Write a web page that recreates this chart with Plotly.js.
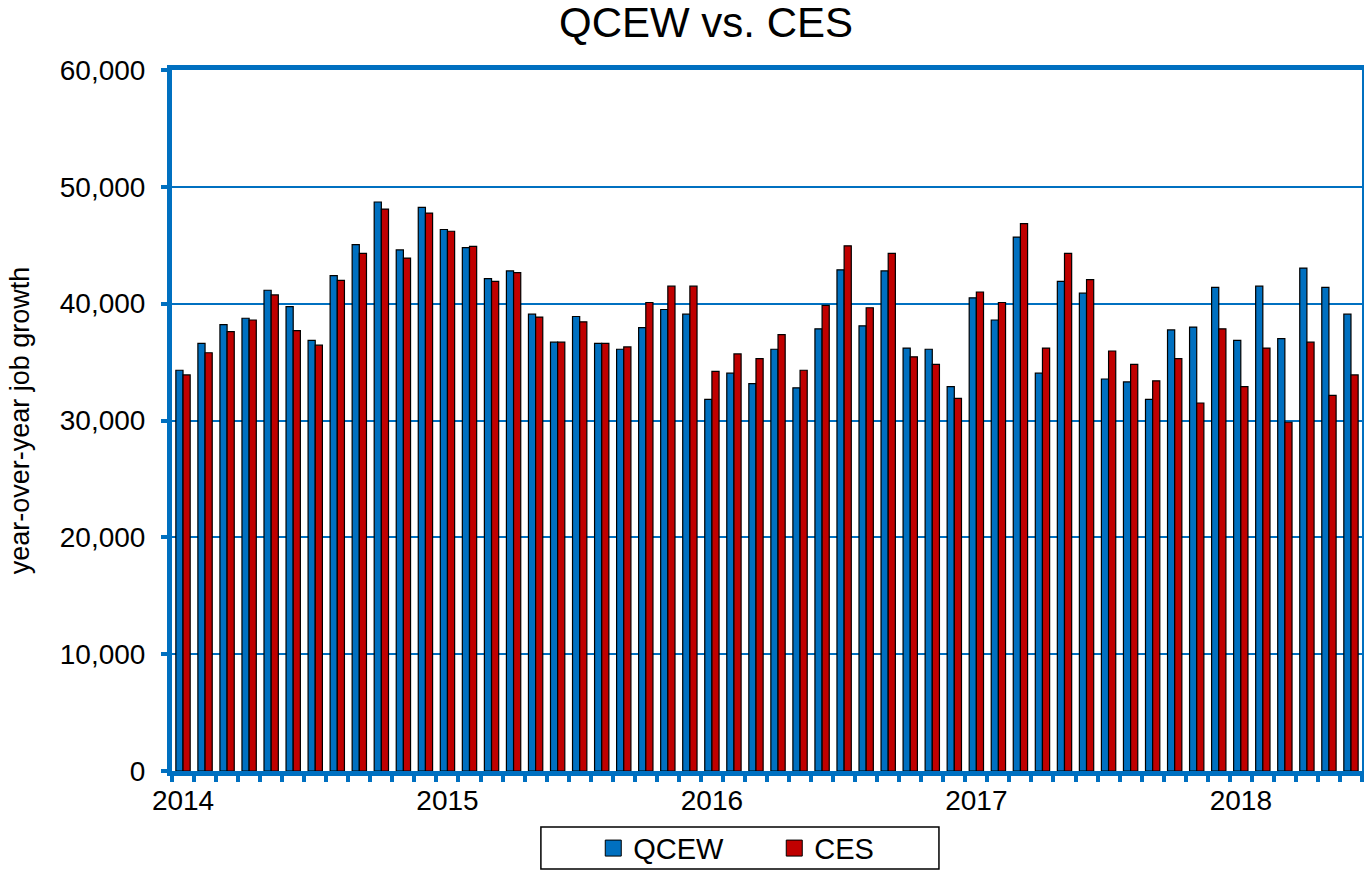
<!DOCTYPE html>
<html>
<head>
<meta charset="utf-8">
<script src="https://cdn.plot.ly/plotly-3.0.1.min.js"></script>
<style>html,body{margin:0;padding:0;background:#fff;}#chart{width:1364px;height:872px;}</style>
</head>
<body>
<div id="chart"></div>
<script>
// Categories: monthly, Jan 2014 – Jun 2018
const years = ['2014', '2015', '2016', '2017', '2018'];
const monthNames = ['Jan','Feb','Mar','Apr','May','Jun','Jul','Aug','Sep','Oct','Nov','Dec'];
const months = [];
const tickLabels = [];
years.forEach(function (yr) {
  monthNames.forEach(function (m, i) {
    if (yr === '2018' && i > 5) return;
    months.push(m + ' ' + yr);
    tickLabels.push(i === 0 ? yr : '');
  });
});

// year-over-year job growth
const qcew = [
  34300, 36600, 38200, 38750, 41150, 39750, 36850, 42400, 45050, 48700, 44600, 48250,
  46350, 44800, 42150, 42800, 39100, 36700, 38900, 36600, 36100, 37950, 39500, 39100,
  31800, 34050, 33150, 36100, 32800, 37850, 42900, 38100, 42800, 36200, 36100, 32900,
  40500, 38600, 45700, 34050, 41900, 40900, 33550, 33300, 31800, 37750, 38000, 41400,
  36850, 41500, 37000, 43050, 41400, 39100
];
const ces = [
  33900, 35800, 37600, 38600, 40750, 37700, 36450, 42000, 44300, 48100, 43900, 47750,
  46200, 44900, 41900, 42650, 38850, 36700, 38450, 36600, 36300, 40100, 41500, 41500,
  34200, 35700, 35300, 37350, 34300, 39850, 44950, 39650, 44300, 35450, 34800, 31900,
  41000, 40100, 46850, 36200, 44300, 42050, 35950, 34800, 33400, 35300, 31500, 37850,
  32900, 36200, 29850, 36700, 32150, 33900
];

const BLUE = '#0070C0';
const RED = '#C00000';
const FONT = 'Liberation Sans, Arial, sans-serif';

const traces = [
  {type: 'bar', name: 'QCEW', x: months, y: qcew, showlegend: false,
   marker: {color: BLUE, line: {color: '#000', width: 1.2}}},
  {type: 'bar', name: 'CES', x: months, y: ces, showlegend: false,
   marker: {color: RED, line: {color: '#000', width: 1.2}}},
  {type: 'scatter', mode: 'markers', name: 'QCEW', x: [null], y: [null],
   marker: {symbol: 'square', size: 18, color: BLUE, line: {color: '#000', width: 1}}},
  {type: 'scatter', mode: 'markers', name: 'CES', x: [null], y: [null],
   marker: {symbol: 'square', size: 18, color: RED, line: {color: '#000', width: 1}}}
];

const layout = {
  width: 1364, height: 872,
  margin: {l: 172, r: 2, t: 70, b: 101, pad: 0, autoexpand: false},
  paper_bgcolor: '#fff', plot_bgcolor: '#fff',
  font: {family: FONT, color: '#000', size: 28},
  title: {text: 'QCEW vs. CES', font: {family: FONT, size: 42, color: '#000'},
          xref: 'container', x: 0.5176, xanchor: 'center', yref: 'container', y: 0.974, yanchor: 'middle'},
  barmode: 'group', bargap: 0.35, bargroupgap: 0,
  xaxis: {
    type: 'category', categoryorder: 'array', categoryarray: months, automargin: false,
    tickmode: 'array', tickvals: months, ticktext: tickLabels, tickson: 'boundaries',
    ticks: 'outside', ticklen: 6, tickwidth: 4, tickcolor: BLUE,
    showline: true, linecolor: BLUE, linewidth: 5, mirror: true,
    showgrid: false, zeroline: false, tickangle: 0,
    tickfont: {family: FONT, size: 28, color: '#000'}
  },
  yaxis: {
    range: [0, 60000], tickmode: 'linear', tick0: 0, dtick: 10000, tickformat: ',d', automargin: false,
    ticks: 'outside', ticklen: 6, tickwidth: 4, tickcolor: BLUE, ticklabelstandoff: 10,
    showline: true, linecolor: BLUE, linewidth: 5, mirror: true,
    showgrid: true, gridcolor: BLUE, gridwidth: 2, zeroline: false,
    tickfont: {family: FONT, size: 28, color: '#000'},
    title: {text: 'year-over-year job growth', font: {family: FONT, size: 27, color: '#000'}, standoff: 24}
  },
  legend: {
    orientation: 'h', xref: 'paper', x: 0.354, xanchor: 'left',
    yref: 'container', y: 0.0565, yanchor: 'top',
    bgcolor: 'rgba(0,0,0,0)', borderwidth: 0,
    font: {family: FONT, size: 29, color: '#000'}, entrywidth: 136, itemwidth: 30
  },
  shapes: [{
    type: 'rect', xref: 'paper', yref: 'paper',
    x0: 0.310, x1: 0.6445, y0: -0.1398, y1: -0.0799,
    line: {color: '#000', width: 1.5}, fillcolor: 'rgba(0,0,0,0)'
  }]
};

Plotly.newPlot('chart', traces, layout, {displayModeBar: false, staticPlot: true});
</script>
</body>
</html>
